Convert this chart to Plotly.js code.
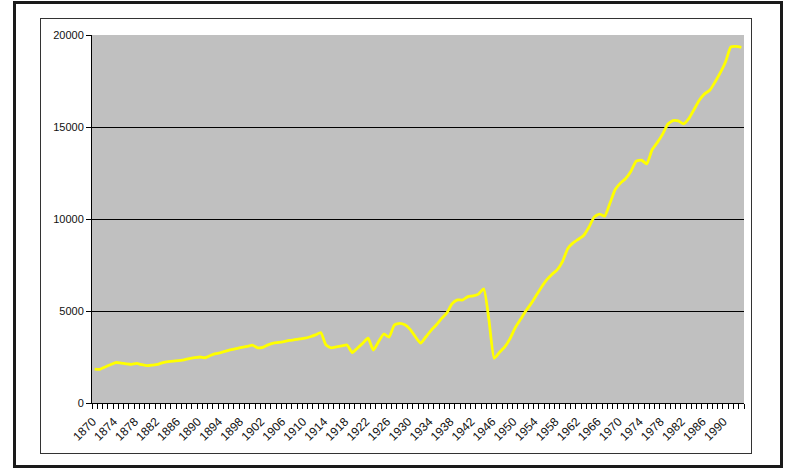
<!DOCTYPE html>
<html>
<head>
<meta charset="utf-8">
<script src="https://cdn.plot.ly/plotly-3.0.1.min.js"></script>
<style>
  html, body { margin: 0; padding: 0; background: #fff; }
  #wrap { position: relative; width: 794px; height: 469px; overflow: hidden; }
  #chart { position: absolute; left: 0; top: 0; width: 794px; height: 469px; }
  #outer { position: absolute; left: 13px; top: 1px; width: 764px; height: 461px; border: 3px solid #1a1a1a; pointer-events: none; }
  #inner { position: absolute; left: 40px; top: 18px; width: 710px; height: 434px; border: 1px solid #333; pointer-events: none; }
</style>
</head>
<body>
<div id="wrap">
  <div id="chart"></div>
  <div id="outer"></div>
  <div id="inner"></div>
</div>
<script>
const years = [
  1870,1871,1872,1873,1874,1875,1876,1877,1878,1879,
  1880,1881,1882,1883,1884,1885,1886,1887,1888,1889,
  1890,1891,1892,1893,1894,1895,1896,1897,1898,1899,
  1900,1901,1902,1903,1904,1905,1906,1907,1908,1909,
  1910,1911,1912,1913,1914,1915,1916,1917,1918,1919,
  1920,1921,1922,1923,1924,1925,1926,1927,1928,1929,
  1930,1931,1932,1933,1934,1935,1936,1937,1938,1939,
  1940,1941,1942,1943,1944,1945,1946,1947,1948,1949,
  1950,1951,1952,1953,1954,1955,1956,1957,1958,1959,
  1960,1961,1962,1963,1964,1965,1966,1967,1968,1969,
  1970,1971,1972,1973,1974,1975,1976,1977,1978,1979,
  1980,1981,1982,1983,1984,1985,1986,1987,1988,1989,
  1990,1991,1992,1993
];

const values = [
  1840,1830,1960,2080,2200,2170,2130,2100,2150,2080,
  2030,2060,2100,2200,2250,2280,2300,2350,2410,2460,
  2500,2460,2580,2680,2740,2820,2900,2960,3020,3080,
  3140,3000,3020,3160,3250,3290,3340,3400,3440,3480,
  3520,3600,3700,3830,3150,3000,3050,3100,3150,2740,
  2990,3250,3520,2880,3330,3750,3580,4240,4330,4250,
  4000,3600,3250,3600,3950,4250,4600,4900,5400,5600,
  5600,5780,5820,5920,6200,4500,2430,2750,3050,3500,
  4100,4550,5000,5400,5850,6300,6700,7000,7250,7700,
  8400,8700,8900,9100,9550,10100,10270,10150,10850,11600,
  11950,12200,12600,13150,13200,12990,13750,14150,14600,15150,
  15350,15330,15170,15450,15950,16450,16800,17000,17450,17950,
  18550,19350,19380,19330
];

const xTickVals = [1870,1874,1878,1882,1886,1890,1894,1898,1902,1906,1910,1914,1918,1922,1926,1930,1934,1938,1942,1946,1950,1954,1958,1962,1966,1970,1974,1978,1982,1986,1990];
const xTickText = xTickVals.map(String);
const yTickVals = [0,5000,10000,15000,20000];
const yTickText = ['0','5000','10000','15000','20000'];

const trace = {
  x: years,
  y: values,
  type: 'scatter',
  mode: 'lines',
  line: { color: '#ffff00', width: 2.8, shape: 'spline', smoothing: 0.5 },
  hoverinfo: 'x+y'
};

const layout = {
  width: 794,
  height: 469,
  margin: { l: 92, r: 50, t: 35, b: 66, pad: 0 },
  paper_bgcolor: '#ffffff',
  plot_bgcolor: '#c0c0c0',
  showlegend: false,
  font: { family: 'Liberation Sans, Arial, sans-serif', size: 11, color: '#111' },
  xaxis: {
    range: [1869.5, 1993.5],
    tickmode: 'array',
    tickvals: xTickVals,
    ticktext: xTickText,
    tickangle: -45,
    ticks: '',
    ticklabelstandoff: 6,
    ticklabelshift: -2,
    showgrid: false,
    zeroline: false,
    showline: true,
    linecolor: '#000',
    linewidth: 1,
    tickfont: { family: 'Liberation Sans, Arial, sans-serif', size: 12, color: '#111' },
    minor: { ticks: 'outside', tick0: 1869.5, dtick: 1, ticklen: 5, tickcolor: '#000', tickwidth: 1, showgrid: false }
  },
  yaxis: {
    range: [0, 20000],
    tickmode: 'array',
    tickvals: yTickVals,
    ticktext: yTickText,
    ticks: 'outside',
    ticklen: 5,
    tickcolor: '#000',
    showgrid: true,
    gridcolor: '#000',
    gridwidth: 1,
    zeroline: false,
    showline: true,
    linecolor: '#000',
    linewidth: 1,
    tickfont: { family: 'Liberation Sans, Arial, sans-serif', size: 11, color: '#111' }
  }
};

Plotly.newPlot('chart', [trace], layout, { displayModeBar: false, staticPlot: true });
</script>
</body>
</html>
